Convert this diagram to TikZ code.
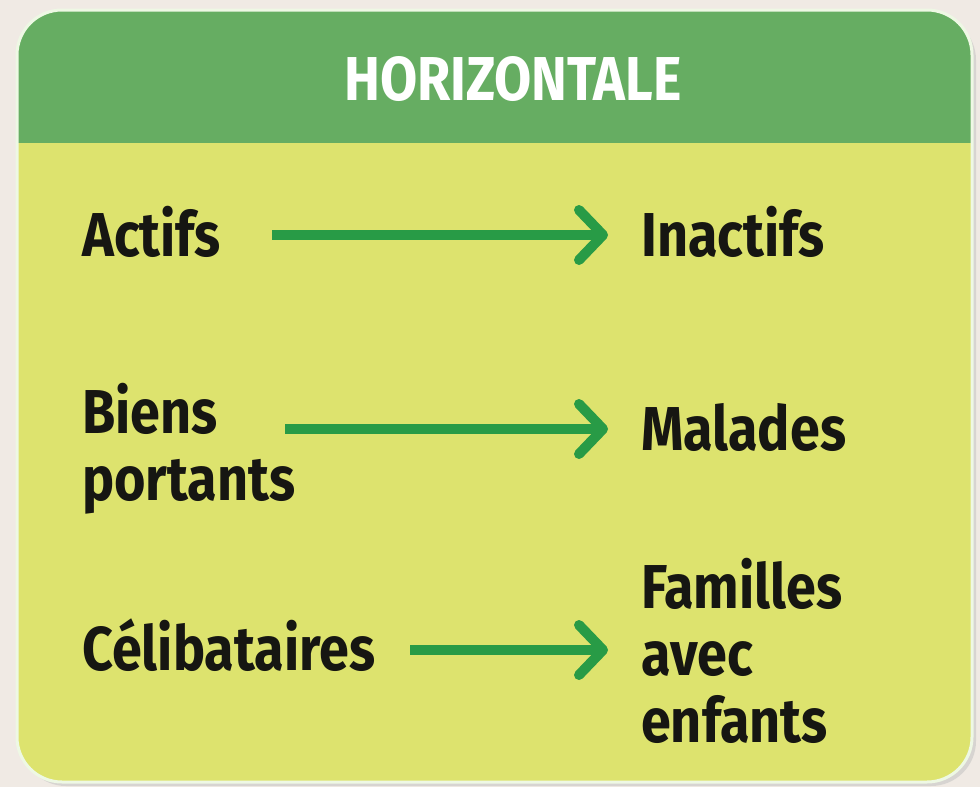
\documentclass[tikz,border=0pt]{standalone}
\usepackage{fontspec}
\setmainfont{Fira Sans}[FakeStretch=0.87]
\usetikzlibrary{arrows.meta}
\definecolor{bgc}{RGB}{240,234,228}
\definecolor{headc}{RGB}{102,173,98}
\definecolor{bodyc}{RGB}{221,227,110}
\definecolor{arrc}{RGB}{40,155,70}
\definecolor{edgec}{RGB}{238,248,228}
\definecolor{txtc}{RGB}{22,22,18}
\tikzset{
  lbl/.style={inner sep=0pt, anchor=base west, align=left, text=txtc,
    font=\fontsize{62}{67}\selectfont\bfseries},
  hdr/.style={inner sep=0pt, anchor=base, text=white,
    font=\fontsize{62}{67}\selectfont\bfseries},
  arr/.style={draw=arrc, line width=10pt,
    -{Straight Barb[length=24pt,width=50pt,round]}}
}
\begin{document}
\begin{tikzpicture}[x=1pt,y=-1pt]
\useasboundingbox (0,0) rectangle (980,787);
\fill[bgc] (0,0) rectangle (980,787);
% shadow
\fill[black!25, opacity=0.5, rounded corners=45pt] (21,15) rectangle (976,786);
% panel
\begin{scope}
  \clip[rounded corners=45pt] (17,10) rectangle (972,782);
  \fill[bodyc] (17,10) rectangle (972,782);
  \fill[headc] (17,10) rectangle (972,143);
\end{scope}
\draw[edgec, line width=3pt, rounded corners=45pt] (17,10) rectangle (972,782);
% title
\node[hdr] (title) at (513,100) {HORIZONTALE};
% rows
\node[lbl] (actifs) at (82,256) {Actifs};
\node[lbl] (inactifs) at (641,256) {Inactifs};
\node[lbl] (biens) at (82,500) {Biens\\portants};
\node[lbl] (malades) at (641,450) {Malades};
\node[lbl] (celib) at (82,670) {Célibataires};
\node[lbl] (familles) at (641,742) {Familles\\avec\\enfants};
% arrow ends
\coordinate (a1) at (272,235); \coordinate (a2) at (608,235);
\coordinate (b1) at (285,429); \coordinate (b2) at (608,429);
\coordinate (c1) at (410,650); \coordinate (c2) at (608,650);
\draw[arr] (a1) -- (a2);
\draw[arr] (b1) -- (b2);
\draw[arr] (c1) -- (c2);
\end{tikzpicture}
\end{document}
